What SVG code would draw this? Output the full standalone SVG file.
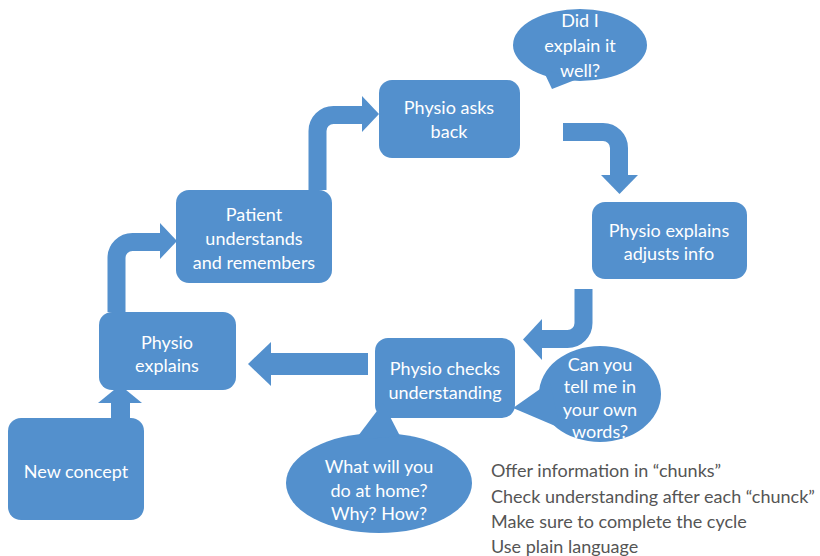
<svg xmlns="http://www.w3.org/2000/svg" width="820" height="556" viewBox="0 0 820 556">
<style>
.box{fill:#5390cd;}
.bub{fill:#5390cd;}
.shaft{fill:none;stroke:#5390cd;}
.head{fill:#5390cd;}
.t{font-family:Lato,"Liberation Sans",sans-serif;font-size:18px;fill:#ffffff;text-anchor:middle;dominant-baseline:central;}
.note{font-family:Lato,"Liberation Sans",sans-serif;font-size:18px;fill:#555555;dominant-baseline:central;}
</style>
<rect width="820" height="556" fill="#ffffff"/>
<g id="connectors">
  <path class="shaft" stroke-width="19" d="M120.5 418 V401"/>
  <polygon class="head" points="98,403 142,403 120,385"/>
  <path class="shaft" stroke-width="18" d="M116.5 312 V258 A16 16 0 0 1 132.5 242 H162"/>
  <polygon class="head" points="160,223 177,241 160,259"/>
  <path class="shaft" stroke-width="18" d="M317.5 190 V131 A16 16 0 0 1 333.5 115 H364"/>
  <polygon class="head" points="362,96 379,114 362,132"/>
  <path class="shaft" stroke-width="18" d="M563 132 H603 A16 16 0 0 1 619 148 V177"/>
  <polygon class="head" points="601,175 638,175 619.5,194"/>
  <path class="shaft" stroke-width="18" d="M583.5 289 V323 A16 16 0 0 1 567.5 339 H539"/>
  <polygon class="head" points="542,319 542,360 523,339.5"/>
  <path class="shaft" stroke-width="22" d="M368 364 H269"/>
  <polygon class="head" points="271,342 271,386 248,364"/>
</g>
<g id="new-concept">
  <rect class="box" x="8" y="418" width="136" height="102" rx="13"/>
  <text class="t" x="76" y="471">New concept</text>
</g>
<g id="physio-explains">
  <rect class="box" x="99" y="312" width="137" height="78" rx="13"/>
  <text class="t" x="167" y="342">Physio</text>
  <text class="t" x="167" y="365">explains</text>
</g>
<g id="patient-understands">
  <rect class="box" x="176" y="190" width="156" height="93" rx="13"/>
  <text class="t" x="254" y="214">Patient</text>
  <text class="t" x="254" y="238">understands</text>
  <text class="t" x="254" y="262">and remembers</text>
</g>
<g id="physio-asks-back">
  <rect class="box" x="379" y="80" width="141" height="78" rx="13"/>
  <text class="t" x="449" y="107">Physio asks</text>
  <text class="t" x="449" y="131">back</text>
</g>
<g id="did-i-explain">
  <ellipse class="bub" cx="580" cy="45" rx="67" ry="36"/>
  <polygon class="bub" points="543,70 552,89 580,78"/>
  <text class="t" x="580" y="20">Did I</text>
  <text class="t" x="580" y="45">explain it</text>
  <text class="t" x="580" y="70">well?</text>
</g>
<g id="physio-explains-adjusts">
  <rect class="box" x="592" y="202" width="155" height="77" rx="13"/>
  <text class="t" x="669" y="230">Physio explains</text>
  <text class="t" x="669" y="253">adjusts info</text>
</g>
<g id="physio-checks">
  <rect class="box" x="375" y="338" width="140" height="80" rx="13"/>
  <text class="t" x="445" y="368">Physio checks</text>
  <text class="t" x="445" y="392">understanding</text>
</g>
<g id="can-you-tell">
  <ellipse class="bub" cx="600" cy="394" rx="61" ry="48"/>
  <polygon class="bub" points="550,382 513,408 560,428"/>
  <text class="t" x="600" y="364">Can you</text>
  <text class="t" x="600" y="386">tell me in</text>
  <text class="t" x="600" y="409">your own</text>
  <text class="t" x="600" y="431">words?</text>
</g>
<g id="what-will-you-do">
  <ellipse class="bub" cx="379" cy="483" rx="93" ry="50"/>
  <polygon class="bub" points="355,440 383,403 400,436"/>
  <text class="t" x="379" y="466">What will you</text>
  <text class="t" x="379" y="490">do at home?</text>
  <text class="t" x="379" y="513">Why? How?</text>
</g>
<g id="notes">
  <text class="note" x="491" y="470">Offer information in “chunks”</text>
  <text class="note" x="491" y="496">Check understanding after each “chunck”</text>
  <text class="note" x="491" y="521">Make sure to complete the cycle</text>
  <text class="note" x="491" y="546">Use plain language</text>
</g>
</svg>
